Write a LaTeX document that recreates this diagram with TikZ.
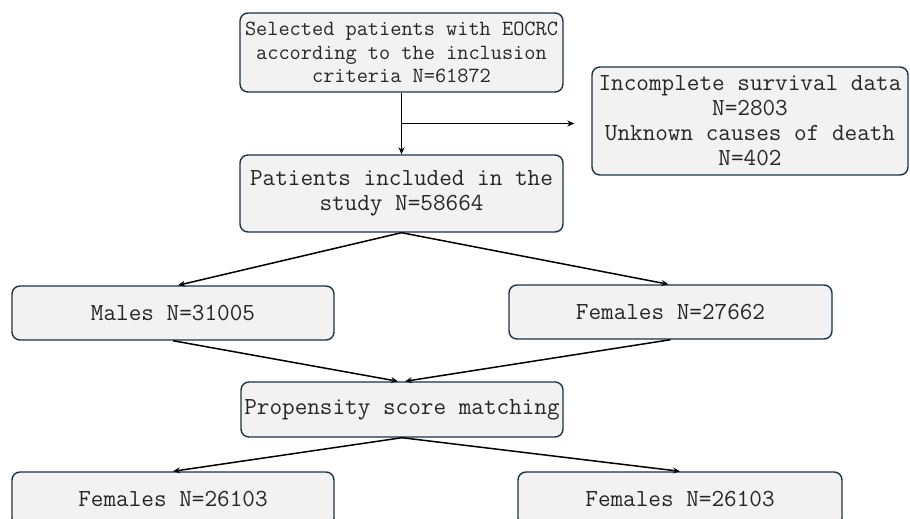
\documentclass[tikz,border=0pt]{standalone}
\usepackage{fontspec}
\usepackage{tikz}
\usetikzlibrary{arrows.meta,calc,positioning}
\definecolor{boxfill}{RGB}{242,242,242}
\definecolor{boxline}{RGB}{27,52,68}

\begin{document}
\begin{tikzpicture}[x=1pt, y=-1pt,
		flowbox/.style={draw=boxline, line width=1.4pt, fill=boxfill, rounded corners=8pt,
			text=black!85, align=center, inner sep=0pt,
			font=\ttfamily\fontsize{24.5}{25}\selectfont},
		flowarrow/.style={-{Stealth[length=7pt,width=6pt]}, line width=1.5pt, black}]
		\useasboundingbox (0,0) rectangle (910,519);
		\node[flowbox, minimum width=323pt, minimum height=79pt,
			font=\ttfamily\fontsize{21.7}{23.5}\selectfont] (selected) at (401.5,52.5)
			{Selected patients with EOCRC\\according to the inclusion\\criteria N=61872};
		\node[flowbox, minimum width=316pt, minimum height=108pt] (excluded) at (750,121)
			{Incomplete survival data\\N=2803\\Unknown causes of death\\N=402};
		\node[flowbox, minimum width=323pt, minimum height=77pt] (included) at (401.5,193.5)
			{Patients included in the\\study N=58664};
		\node[flowbox, minimum width=322pt, minimum height=54pt] (males) at (173,313) {Males N=31005};
		\node[flowbox, minimum width=323pt, minimum height=54pt] (females) at (670.5,312) {Females N=27662};
		\node[flowbox, minimum width=322pt, minimum height=55pt] (matching) at (402,409.5) {Propensity score matching};
		\node[flowbox, minimum width=322pt, minimum height=54pt] (matchedl) at (173,499) {Females N=26103};
		\node[flowbox, minimum width=324pt, minimum height=54pt] (matchedr) at (680,499) {Females N=26103};

		\coordinate (branch) at ($(selected.south)!0.5!(included.north)$);
		\draw[flowarrow] (selected.south) -- (included.north);
		\draw[flowarrow, shorten >=17pt] (branch) -- (branch -| excluded.west);
		\draw[flowarrow] (included.south) -- ([xshift=5pt]males.north);
		\draw[flowarrow] (included.south) -- ([xshift=-2pt]females.north);
		\draw[flowarrow] (males.south) -- ([xshift=-4pt]matching.north);
		\draw[flowarrow] (females.south) -- ([xshift=3pt]matching.north);
		\draw[flowarrow] (matching.south) -- (matchedl.north);
		\draw[flowarrow] (matching.south) -- (matchedr.north);
	\end{tikzpicture}
\end{document}
